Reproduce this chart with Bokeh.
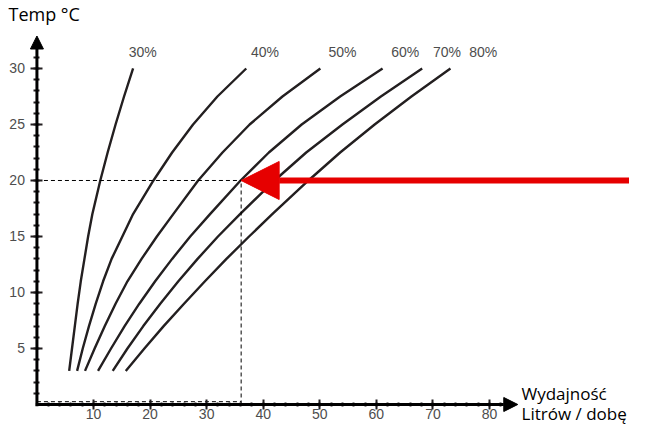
from bokeh.plotting import figure
from bokeh.models import Range1d, FixedTicker, Arrow, NormalHead
from bokeh.core.properties import value
from bokeh.embed import file_html
from bokeh.resources import INLINE

# ---- data ----
humidity_labels = ["30%", "40%", "50%", "60%", "70%", "80%"]
temp_levels = [3, 5, 7, 9, 11, 13, 15, 17, 20, 22.5, 25, 27.5, 30]          # Temp °C
output_30 = [5.7, 6.2, 6.7, 7.2, 7.75, 8.4, 9.05, 9.8, 11.2, 12.5, 13.9, 15.4, 17.0]   # Litrów / dobę
output_40 = [7.1, 8.1, 9.2, 10.4, 11.7, 13.2, 15.1, 17.0, 20.6, 23.9, 27.6, 31.9, 37.0]
output_50 = [8.5, 10.2, 12.0, 13.9, 16.0, 18.5, 21.2, 24.1, 28.5, 32.8, 37.6, 43.4, 50.1]
output_60 = [10.8, 13.1, 15.5, 18.1, 20.9, 23.9, 27.1, 30.6, 36.0, 41.0, 46.8, 53.6, 61.1]
output_70 = [13.4, 16.0, 18.8, 21.8, 25.0, 28.4, 32.0, 35.9, 42.0, 47.6, 54.0, 60.8, 68.1]
output_80 = [15.7, 19.0, 22.4, 26.0, 29.7, 33.5, 37.5, 41.6, 48.0, 53.6, 59.7, 66.2, 73.1]
series = [output_30, output_40, output_50, output_60, output_70, output_80]

x_ticks = [10, 20, 30, 40, 50, 60, 70, 80]
y_ticks = [5, 10, 15, 20, 25, 30]
x_minor = list(range(2, 85, 2))
y_minor = list(range(1, 33))

target_temp = 20
target_output = 36.1

# label anchor positions (layout)
label_x = [18.7, 40.3, 54.0, 65.1, 72.5, 78.9]
label_y = 31.5

INK = "#231f20"
GREY = "#4d4d4d"
RED = "#e60000"

p = figure(width=629, height=425, output_backend="svg", toolbar_location=None,
           x_range=Range1d(-6.44, 104.75), y_range=Range1d(-1.875, 36.07),
           min_border=0, outline_line_color=None)
p.grid.visible = False

for ax, ticks, minor in ((p.xaxis, x_ticks, x_minor), (p.yaxis, y_ticks, y_minor)):
    ax.fixed_location = 0
    ax.ticker = FixedTicker(ticks=ticks, minor_ticks=minor)
    ax.axis_line_color = None
    ax.major_tick_line_color = INK
    ax.major_tick_line_width = 2
    ax.minor_tick_line_color = INK
    ax.minor_tick_line_width = 2
    ax.major_label_text_font = "Liberation Sans"
    ax.major_label_text_font_size = "14px"
    ax.major_label_text_color = GREY

p.xaxis.major_tick_in = 5
p.xaxis.major_tick_out = 5
p.xaxis.minor_tick_in = 2
p.xaxis.minor_tick_out = 2
p.xaxis.major_label_standoff = 0
p.yaxis.major_tick_in = 6
p.yaxis.major_tick_out = 6
p.yaxis.minor_tick_in = 3
p.yaxis.minor_tick_out = 3
p.yaxis.major_label_standoff = 6

# curves
for out in series:
    p.line(out, temp_levels, line_width=2.4, line_color=INK, line_join="round")

p.text(x=label_x, y=[label_y] * len(humidity_labels), text=humidity_labels,
       text_font=value("Liberation Sans"), text_font_size="14px", text_color=GREY,
       text_align="center", text_baseline="middle")

# reading guides
p.line([0, target_output], [target_temp, target_temp], line_dash="4 3", line_color="black", line_width=1)
p.line([target_output, target_output], [0, target_temp], line_dash="4 3", line_color="black", line_width=1)
p.line([0, target_output], [0.25, 0.25], line_dash="4 3", line_color="black", line_width=1)

# axis arrows
p.add_layout(Arrow(end=NormalHead(size=14, fill_color="black", line_color="black"),
                   x_start=-0.2, y_start=0, x_end=85.0, y_end=0,
                   line_color="black", line_width=3))
p.add_layout(Arrow(end=NormalHead(size=13, fill_color="black", line_color="black"),
                   x_start=0, y_start=-0.15, x_end=0, y_end=32.9,
                   line_color="black", line_width=3))

# red arrow
p.add_layout(Arrow(end=NormalHead(size=38, fill_color=RED, line_color=RED),
                   x_start=110, y_start=target_temp, x_end=target_output, y_end=target_temp,
                   line_color=RED, line_width=6))

# axis titles
p.text(x=[-5.03], y=[34.9], text=["Temp °C"], text_font=value("Open Sans"),
       text_font_size="18px", text_color="black", text_baseline="alphabetic")
p.text(x=[85.66, 85.66], y=[0.98, -0.8], text=["Wydajność", "Litrów / dobę"],
       text_font=value("Open Sans"), text_font_size="17px", text_color="black",
       text_baseline="alphabetic")

open("out.html", "w").write(file_html(p, INLINE))
